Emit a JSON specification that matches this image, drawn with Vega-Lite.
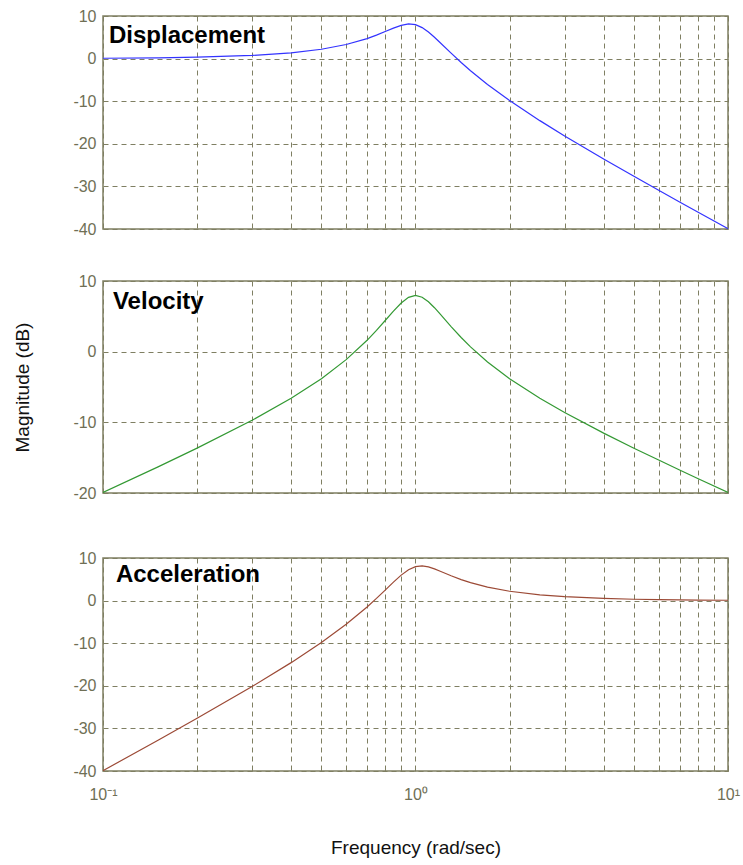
{
  "$schema": "https://vega.github.io/schema/vega-lite/v6.json",
  "background": "white",
  "padding": {"left": 13, "top": 7, "right": 8, "bottom": 5},
  "config": {
    "view": {"stroke": "#7f7f62", "strokeWidth": 1.5},
    "font": "Liberation Sans",
    "axis": {
      "gridColor": "#7f7f62", "gridDash": [5, 4], "gridOpacity": 1, "gridWidth": 1,
      "labelFont": "Liberation Sans", "labelFontSize": 16, "labelColor": "#6f6f55",
      "domain": false, "titleFont": "Liberation Sans", "titleFontWeight": "normal",
      "titleFontSize": 19, "titleColor": "#111111"
    }
  },
  "datasets": {
    "bode": [
      {"series": "Displacement", "f": 0.1, "db": 0.08}, {"series": "Displacement", "f": 0.15, "db": 0.18}, {"series": "Displacement", "f": 0.2, "db": 0.33}, {"series": "Displacement", "f": 0.3, "db": 0.74}, {"series": "Displacement", "f": 0.4, "db": 1.36}, {"series": "Displacement", "f": 0.5, "db": 2.2}, {"series": "Displacement", "f": 0.6, "db": 3.31}, {"series": "Displacement", "f": 0.7, "db": 4.7}, {"series": "Displacement", "f": 0.75, "db": 5.51}, {"series": "Displacement", "f": 0.8, "db": 6.35}, {"series": "Displacement", "f": 0.85, "db": 7.15}, {"series": "Displacement", "f": 0.9, "db": 7.81}, {"series": "Displacement", "f": 0.95, "db": 8.13}, {"series": "Displacement", "f": 1.0, "db": 7.96}, {"series": "Displacement", "f": 1.05, "db": 7.28}, {"series": "Displacement", "f": 1.1, "db": 6.24}, {"series": "Displacement", "f": 1.15, "db": 5.01}, {"series": "Displacement", "f": 1.2, "db": 3.73}, {"series": "Displacement", "f": 1.3, "db": 1.27}, {"series": "Displacement", "f": 1.4, "db": -0.92}, {"series": "Displacement", "f": 1.5, "db": -2.84}, {"series": "Displacement", "f": 1.7, "db": -6.06}, {"series": "Displacement", "f": 2.0, "db": -9.84}, {"series": "Displacement", "f": 2.5, "db": -14.56}, {"series": "Displacement", "f": 3.0, "db": -18.16}, {"series": "Displacement", "f": 4.0, "db": -23.57}, {"series": "Displacement", "f": 5.0, "db": -27.63}, {"series": "Displacement", "f": 6.0, "db": -30.9}, {"series": "Displacement", "f": 7.0, "db": -33.64}, {"series": "Displacement", "f": 8.0, "db": -36.0}, {"series": "Displacement", "f": 10.0, "db": -39.92},
      {"series": "Velocity", "f": 0.1, "db": -19.92}, {"series": "Velocity", "f": 0.15, "db": -16.3}, {"series": "Velocity", "f": 0.2, "db": -13.65}, {"series": "Velocity", "f": 0.3, "db": -9.71}, {"series": "Velocity", "f": 0.4, "db": -6.6}, {"series": "Velocity", "f": 0.5, "db": -3.82}, {"series": "Velocity", "f": 0.6, "db": -1.13}, {"series": "Velocity", "f": 0.7, "db": 1.61}, {"series": "Velocity", "f": 0.75, "db": 3.01}, {"series": "Velocity", "f": 0.8, "db": 4.41}, {"series": "Velocity", "f": 0.85, "db": 5.74}, {"series": "Velocity", "f": 0.9, "db": 6.89}, {"series": "Velocity", "f": 0.95, "db": 7.68}, {"series": "Velocity", "f": 1.0, "db": 7.96}, {"series": "Velocity", "f": 1.05, "db": 7.71}, {"series": "Velocity", "f": 1.1, "db": 7.07}, {"series": "Velocity", "f": 1.15, "db": 6.22}, {"series": "Velocity", "f": 1.2, "db": 5.31}, {"series": "Velocity", "f": 1.3, "db": 3.55}, {"series": "Velocity", "f": 1.4, "db": 2.01}, {"series": "Velocity", "f": 1.5, "db": 0.68}, {"series": "Velocity", "f": 1.7, "db": -1.45}, {"series": "Velocity", "f": 2.0, "db": -3.82}, {"series": "Velocity", "f": 2.5, "db": -6.6}, {"series": "Velocity", "f": 3.0, "db": -8.62}, {"series": "Velocity", "f": 4.0, "db": -11.53}, {"series": "Velocity", "f": 5.0, "db": -13.66}, {"series": "Velocity", "f": 6.0, "db": -15.34}, {"series": "Velocity", "f": 7.0, "db": -16.74}, {"series": "Velocity", "f": 8.0, "db": -17.94}, {"series": "Velocity", "f": 10.0, "db": -19.92},
      {"series": "Acceleration", "f": 0.1, "db": -39.92}, {"series": "Acceleration", "f": 0.15, "db": -32.77}, {"series": "Acceleration", "f": 0.2, "db": -27.63}, {"series": "Acceleration", "f": 0.3, "db": -20.17}, {"series": "Acceleration", "f": 0.4, "db": -14.56}, {"series": "Acceleration", "f": 0.5, "db": -9.84}, {"series": "Acceleration", "f": 0.6, "db": -5.57}, {"series": "Acceleration", "f": 0.7, "db": -1.49}, {"series": "Acceleration", "f": 0.75, "db": 0.51}, {"series": "Acceleration", "f": 0.8, "db": 2.47}, {"series": "Acceleration", "f": 0.85, "db": 4.33}, {"series": "Acceleration", "f": 0.9, "db": 5.98}, {"series": "Acceleration", "f": 0.95, "db": 7.24}, {"series": "Acceleration", "f": 1.0, "db": 7.96}, {"series": "Acceleration", "f": 1.05, "db": 8.13}, {"series": "Acceleration", "f": 1.1, "db": 7.9}, {"series": "Acceleration", "f": 1.15, "db": 7.44}, {"series": "Acceleration", "f": 1.2, "db": 6.89}, {"series": "Acceleration", "f": 1.3, "db": 5.83}, {"series": "Acceleration", "f": 1.4, "db": 4.93}, {"series": "Acceleration", "f": 1.5, "db": 4.21}, {"series": "Acceleration", "f": 1.7, "db": 3.16}, {"series": "Acceleration", "f": 2.0, "db": 2.2}, {"series": "Acceleration", "f": 2.5, "db": 1.36}, {"series": "Acceleration", "f": 3.0, "db": 0.93}, {"series": "Acceleration", "f": 4.0, "db": 0.51}, {"series": "Acceleration", "f": 5.0, "db": 0.32}, {"series": "Acceleration", "f": 6.0, "db": 0.22}, {"series": "Acceleration", "f": 7.0, "db": 0.16}, {"series": "Acceleration", "f": 8.0, "db": 0.13}, {"series": "Acceleration", "f": 10.0, "db": 0.08}
    ]
  },
  "spacing": 47,
  "vconcat": [
    {
      "spacing": 34,
      "vconcat": [
        {
          "width": 625, "height": 213,
          "layer": [
            {
              "data": {"name": "bode"},
              "transform": [{"filter": "datum.series == 'Displacement'"}],
              "mark": {"type": "line", "color": "#3333ff", "strokeWidth": 1.2, "clip": true},
              "encoding": {
                "x": {"field": "f", "type": "quantitative", "scale": {"type": "log", "domain": [0.1, 10]},
                  "axis": {"values": [0.1,0.2,0.3,0.4,0.5,0.6,0.7,0.8,0.9,1,2,3,4,5,6,7,8,9,10], "labels": false, "ticks": false, "title": null}},
                "y": {"field": "db", "type": "quantitative", "scale": {"domain": [-40, 10], "nice": false},
                  "axis": {"values": [-40,-30,-20,-10,0,10], "ticks": false, "labelPadding": 7, "labelExpr": "'' + datum.value", "title": null}}
              }
            },
            {
              "data": {"values": [{"label": "Displacement"}]},
              "mark": {"type": "text", "fontSize": 24, "fontWeight": "bold", "align": "left", "baseline": "alphabetic", "color": "#000000", "font": "Liberation Sans"},
              "encoding": {"x": {"datum": 0.1045}, "y": {"datum": 3.7}, "text": {"field": "label"}}
            }
          ]
        },
        {
          "width": 625, "height": 212,
          "layer": [
            {
              "data": {"name": "bode"},
              "transform": [{"filter": "datum.series == 'Velocity'"}],
              "mark": {"type": "line", "color": "#339933", "strokeWidth": 1.2, "clip": true},
              "encoding": {
                "x": {"field": "f", "type": "quantitative", "scale": {"type": "log", "domain": [0.1, 10]},
                  "axis": {"values": [0.1,0.2,0.3,0.4,0.5,0.6,0.7,0.8,0.9,1,2,3,4,5,6,7,8,9,10], "labels": false, "ticks": false, "title": null}},
                "y": {"field": "db", "type": "quantitative", "scale": {"domain": [-20, 10], "nice": false},
                  "axis": {"values": [-20,-10,0,10], "ticks": false, "labelPadding": 7, "labelExpr": "'' + datum.value", "title": "Magnitude (dB)", "titlePadding": 40}}
              }
            },
            {
              "data": {"values": [{"label": "Velocity"}]},
              "mark": {"type": "text", "fontSize": 24, "fontWeight": "bold", "align": "left", "baseline": "alphabetic", "color": "#000000", "font": "Liberation Sans"},
              "encoding": {"x": {"datum": 0.1076}, "y": {"datum": 6.1}, "text": {"field": "label"}}
            }
          ]
        }
      ]
    },
    {
      "width": 625, "height": 213,
      "layer": [
        {
          "data": {"name": "bode"},
          "transform": [{"filter": "datum.series == 'Acceleration'"}],
          "mark": {"type": "line", "color": "#9c4a36", "strokeWidth": 1.2, "clip": true},
          "encoding": {
            "x": {"field": "f", "type": "quantitative", "scale": {"type": "log", "domain": [0.1, 10]},
              "axis": {"values": [0.1,0.2,0.3,0.4,0.5,0.6,0.7,0.8,0.9,1,2,3,4,5,6,7,8,9,10], "ticks": true, "tickSize": -5, "tickColor": "#7f7f62", "labelPadding": 20,
                "labelExpr": "datum.value == 0.1 ? '10⁻¹' : (datum.value == 1 ? '10⁰' : (datum.value == 10 ? '10¹' : ''))",
                "labelFlush": false, "labelOverlap": false, "title": "Frequency (rad/sec)", "titlePadding": 36}},
            "y": {"field": "db", "type": "quantitative", "scale": {"domain": [-40, 10], "nice": false},
              "axis": {"values": [-40,-30,-20,-10,0,10], "ticks": false, "labelPadding": 7, "labelExpr": "'' + datum.value", "title": null}}
          }
        },
        {
          "data": {"values": [{"label": "Acceleration"}]},
          "mark": {"type": "text", "fontSize": 24, "fontWeight": "bold", "align": "left", "baseline": "alphabetic", "color": "#000000", "font": "Liberation Sans"},
          "encoding": {"x": {"datum": 0.11}, "y": {"datum": 4.3}, "text": {"field": "label"}}
        }
      ]
    }
  ]
}
